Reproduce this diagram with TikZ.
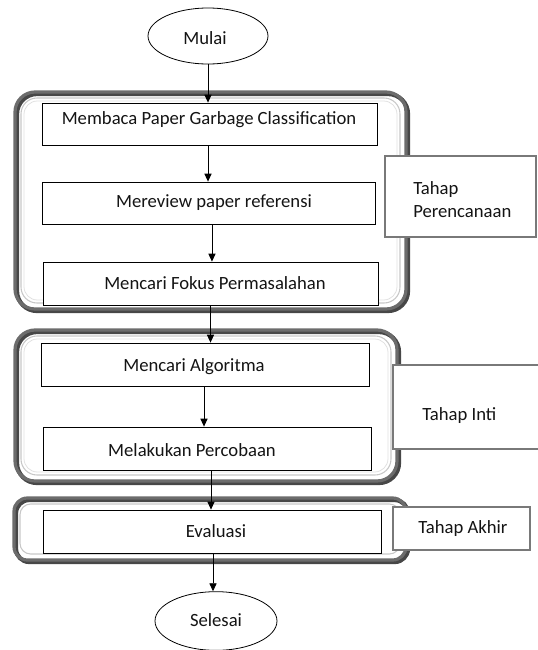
\documentclass[tikz,border=0pt]{standalone}
\usepackage{fontspec}
\setmainfont{Carlito}
\usetikzlibrary{shapes.geometric,arrows.meta}
\begin{document}
\begin{tikzpicture}[x=0.75pt,y=-0.75pt,
  font=\fontsize{14}{17.25}\selectfont,
  stepbox/.style={draw=black,line width=0.6pt,fill=white,rectangle,inner sep=0pt},
  terminal/.style={draw=black,line width=0.6pt,fill=white,ellipse,inner sep=0pt},
  stagebox/.style={draw=gray!95!black,line width=1.1pt,fill=white},
  txt/.style={inner sep=0pt,text=black!92},
  arr/.style={draw=black,line width=0.6pt,-{Triangle[length=6pt,width=5.4pt]}},
  framedark/.style={draw=black!72,line width=3.2pt,rounded corners=15pt},
  framemid/.style={draw=gray!85!black,line width=2.4pt,rounded corners=15pt},
  framelight/.style={draw=black!22,line width=0.8pt,rounded corners=12pt},
  framefaint/.style={draw=black!12,line width=0.6pt,rounded corners=10pt}]
\useasboundingbox (0,0) rectangle (537,650);

% stage frames (bevelled rounded rectangles)
\draw[framedark] (17,94) rectangle (408,311);
\draw[framemid]  (15,92) rectangle (406,309);
\draw[framelight] (21,98) rectangle (400,303);
\draw[framefaint] (24,101) rectangle (397,300);

\draw[framedark] (17,332) rectangle (399,483);
\draw[framemid]  (15,330) rectangle (397,481);
\draw[framelight] (21,336) rectangle (391,475);
\draw[framefaint] (24,339) rectangle (388,472);

\draw[framedark,rounded corners=10pt] (16,500) rectangle (408,562);
\draw[framemid,rounded corners=10pt]  (14,498) rectangle (406,560);
\draw[framelight,rounded corners=8pt] (20,504) rectangle (400,554);

% stage labels
\node[stagebox,minimum width=113.25pt,minimum height=60.75pt] (sp) at (460.5,196.5) {};
\node[txt,anchor=base west,align=left] (spt) at (413,217) {Tahap\\Perencanaan};
\node[stagebox,minimum width=114pt,minimum height=63pt] (si) at (469,407) {};
\node[txt,anchor=base west] (sit) at (422,420) {Tahap Inti};
\node[stagebox,minimum width=102.75pt,minimum height=32.25pt] (sa) at (461.5,528.5) {};
\node[txt,anchor=base west] (sat) at (418,533) {Tahap Akhir};

% terminals
\node[terminal,minimum width=90pt,minimum height=42pt] (mulai) at (208,36) {};
\node[txt,anchor=base] (mulait) at (205,44) {Mulai};
\node[terminal,minimum width=91.5pt,minimum height=44pt] (selesai) at (216,621) {};
\node[txt,anchor=base] (selesait) at (216,626) {Selesai};

% process steps
\node[stepbox,minimum width=251.25pt,minimum height=31.5pt] (b1) at (209.5,124) {};
\node[txt,anchor=base] (b1t) at (209,124) {Membaca Paper Garbage Classification};
\node[stepbox,minimum width=249.75pt,minimum height=31.5pt] (b2) at (208.5,203) {};
\node[txt,anchor=base] (b2t) at (214,207) {Mereview paper referensi};
\node[stepbox,minimum width=251.25pt,minimum height=32.25pt] (b3) at (210.5,283.5) {};
\node[txt,anchor=base] (b3t) at (215,289) {Mencari Fokus Permasalahan};
\node[stepbox,minimum width=246pt,minimum height=32.25pt] (b4) at (205,364.5) {};
\node[txt,anchor=base] (b4t) at (194,371) {Mencari Algoritma};
\node[stepbox,minimum width=246pt,minimum height=32.25pt] (b5) at (207,448.5) {};
\node[txt,anchor=base] (b5t) at (192,456) {Melakukan Percobaan};
\node[stepbox,minimum width=253.5pt,minimum height=32.25pt] (b6) at (212,531.5) {};
\node[txt,anchor=base] (b6t) at (216,537) {Evaluasi};

% flow
\draw[arr] (mulai.south) -- (mulai.south |- b1.north);
\draw[arr] (b1.south -| mulai.south) -- (mulai.south |- b2.north);
\draw[arr] ([xshift=2.6pt]b2.south) -- ([xshift=2.6pt]b2.south |- b3.north);
\draw[arr] (b3.south) -- (b3.south |- b4.north);
\draw[arr] ([xshift=-0.75pt]b4.south) -- ([xshift=-0.75pt]b4.south |- b5.north);
\draw[arr] ([xshift=3pt]b5.south) -- ([xshift=3pt]b5.south |- b6.north);
\draw[arr] ([xshift=0.75pt]b6.south) -- ([xshift=0.75pt]b6.south |- selesai.north);
\end{tikzpicture}
\end{document}
